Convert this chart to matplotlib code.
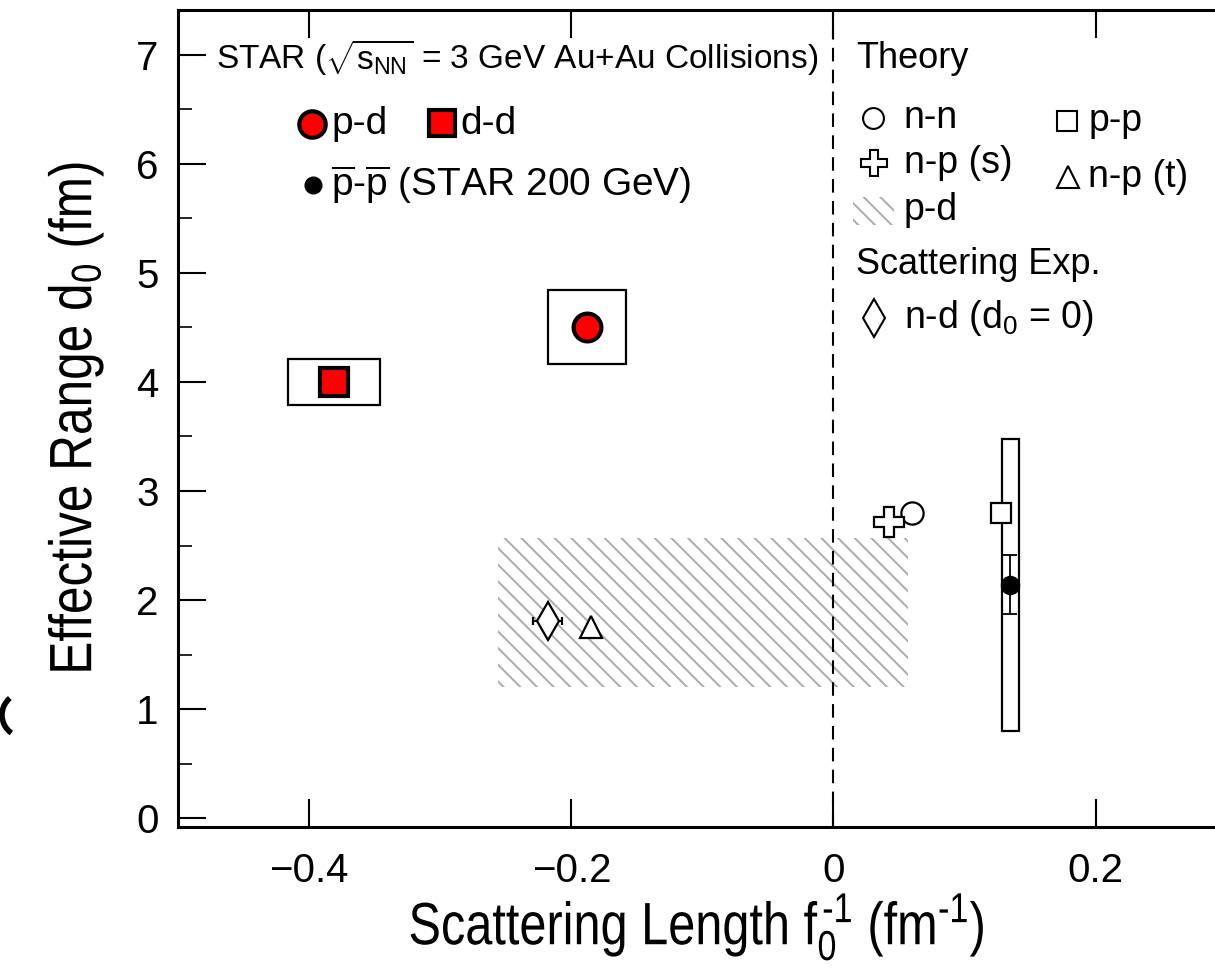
import matplotlib
matplotlib.use("Agg")
import matplotlib.pyplot as plt
from matplotlib.patches import Rectangle, Arc
from matplotlib.patheffects import AbstractPathEffect
from matplotlib.transforms import Affine2D
from matplotlib import font_manager as fm

# ---- data: inverse scattering length f0^-1 (fm^-1) and effective range d0 (fm)
star_pairs = ["p-d", "d-d"]
star_inv_f0 = [-0.188, -0.381]
star_d0 = [4.50, 4.00]
star_inv_f0_sys = [0.030, 0.035]
star_d0_sys = [0.34, 0.21]

pbar_inv_f0 = 0.135
pbar_d0 = 2.14
pbar_d0_stat = 0.27
pbar_inv_f0_sys = 0.0065
pbar_d0_sys = 1.34

theory_pairs = ["n-n", "n-p (s)", "n-p (t)", "p-p"]
theory_inv_f0 = [0.060, 0.042, -0.185, 0.128]
theory_d0 = [2.80, 2.72, 1.75, 2.80]

pd_band_inv_f0 = [-0.256, 0.057]
pd_band_d0 = [1.20, 2.57]

nd_inv_f0 = -0.218
nd_inv_f0_err = 0.011
nd_d0 = 1.81

xticks = [-0.4, -0.2, 0.0, 0.2]
xticklabels = ["\u22120.4", "\u22120.2", "0", "0.2"]
yticks = [0, 1, 2, 3, 4, 5, 6, 7]


class Squeeze(AbstractPathEffect):
    """Draw text horizontally condensed about its own centre."""

    def __init__(self, sx=0.82):
        super().__init__()
        self.sx = sx

    def draw_path(self, renderer, gc, tpath, affine, rgbFace=None):
        ext = tpath.get_extents()
        cx = 0.5 * (ext.x0 + ext.x1)
        t = Affine2D().translate(-cx, 0).scale(self.sx, 1).translate(cx, 0) + affine
        renderer.draw_path(gc, tpath, t, rgbFace)


# ---- fonts
names = {f.name for f in fm.fontManager.ttflist}
base = "Liberation Sans" if "Liberation Sans" in names else "DejaVu Sans"
plt.rcParams["font.family"] = [base, "DejaVu Sans"]
plt.rcParams["mathtext.fontset"] = "custom"
plt.rcParams["mathtext.rm"] = base
plt.rcParams["mathtext.it"] = base
plt.rcParams["mathtext.bf"] = base
plt.rcParams["hatch.linewidth"] = 1.4

HATCH_GREY = "#ababab"

fig = plt.figure(figsize=(12.15, 9.68), dpi=100)
ax = fig.add_axes([0.1465, 0.1457, 0.8535, 0.844])
ax.set_xlim(-0.5, 0.291)
ax.set_ylim(-0.08, 7.41)

# p-d theory band
ax.fill_between(pd_band_inv_f0, pd_band_d0[0], pd_band_d0[1], facecolor="none",
                edgecolor=HATCH_GREY, hatch="\\\\", linewidth=0, zorder=1)

# zero line
ax.axvline(0, color="black", lw=1.5, dashes=(6.5, 4), zorder=2)

# STAR 3 GeV systematic boxes and points
for x, y, sx, sy in zip(star_inv_f0, star_d0, star_inv_f0_sys, star_d0_sys):
    ax.add_patch(Rectangle((x - sx, y - sy), 2 * sx, 2 * sy, fill=False,
                           edgecolor="black", lw=1.6, zorder=3))
ax.plot(star_inv_f0[0], star_d0[0], "o", ms=20, mfc="red", mec="black", mew=3, zorder=5)
ax.plot(star_inv_f0[1], star_d0[1], "s", ms=20, mfc="red", mec="black", mew=3, zorder=5)

# pbar-pbar (STAR 200 GeV)
ax.add_patch(Rectangle((pbar_inv_f0 - pbar_inv_f0_sys, pbar_d0 - pbar_d0_sys),
                       2 * pbar_inv_f0_sys, 2 * pbar_d0_sys, fill=False,
                       edgecolor="black", lw=1.6, zorder=3))
ax.errorbar(pbar_inv_f0, pbar_d0, yerr=pbar_d0_stat, fmt="o", ms=13, color="black",
            elinewidth=1.3, capsize=5, capthick=1.3, zorder=6)

# theory points
mk = {"n-n": ("o", 16), "n-p (s)": ("P", 21), "n-p (t)": ("^", 16), "p-p": ("s", 14)}
for name, x, y in zip(theory_pairs, theory_inv_f0, theory_d0):
    m, s = mk[name]
    ax.plot(x, y, m, ms=s, mfc="white", mec="black", mew=1.6, zorder=4)

# n-d scattering experiment
ax.errorbar(nd_inv_f0, nd_d0, xerr=nd_inv_f0_err, fmt="d", ms=19, mfc="white",
            mec="black", mew=1.6, ecolor="black", elinewidth=1.3, capsize=3,
            capthick=1.3, zorder=5)

# axes styling
for side in ["left", "bottom", "top"]:
    ax.spines[side].set_linewidth(2.2)
ax.spines["right"].set_visible(False)
ax.set_xticks(xticks)
ax.set_xticklabels(xticklabels)
ax.set_yticks(yticks)
ax.set_yticks([v + 0.5 for v in yticks[:-1]], minor=True)
ax.tick_params(which="major", direction="in", length=20, width=1.5, top=True,
               right=False, labelsize=29)
ax.tick_params(axis="x", which="major", pad=18)
ax.tick_params(axis="y", which="major", pad=14)
ax.tick_params(which="minor", direction="in", length=10, width=1.2, top=False,
               right=False)
ax.tick_params(axis="x", which="minor", bottom=False)

xl = ax.set_xlabel(r"Scattering Length f$_{0}^{\,\text{-1}}$ (fm$^{\text{-1}}$)",
                   fontsize=43, labelpad=2)
xl.set_path_effects([Squeeze(0.815)])
yl = ax.set_ylabel(r"Effective Range d$_{0}$ (fm)", fontsize=43, labelpad=22)
yl.set_path_effects([Squeeze(0.83)])

# stroke of a neighbouring panel's label showing at the left border
fig.add_artist(Arc((0.24, 2.53), 0.44, 0.44, theta1=130, theta2=235, lw=4.0,
                   color="black", transform=fig.dpi_scale_trans))

# ---- in-plot legends (axes-fraction layout)
T = ax.transAxes
fs_head = 26
fs_item = 27
ax.text(0.037, 0.941, r"STAR ($\sqrt{s_{\mathrm{NN}}}$ = 3 GeV Au+Au Collisions)",
        transform=T, fontsize=24, va="center", ha="left")
ax.plot(0.129, 0.860, "o", ms=19, mfc="red", mec="black", mew=3, transform=T, clip_on=False)
ax.text(0.148, 0.860, "p-d", transform=T, fontsize=28, va="center")
ax.plot(0.255, 0.862, "s", ms=19, mfc="red", mec="black", mew=3, transform=T, clip_on=False)
ax.text(0.272, 0.860, "d-d", transform=T, fontsize=28, va="center")
ax.plot(0.130, 0.786, "o", ms=12, color="black", transform=T)
ax.text(0.148, 0.786, r"$\overline{\mathrm{p}}$-$\overline{\mathrm{p}}$ (STAR 200 GeV)",
        transform=T, fontsize=28, va="center")

ax.text(0.654, 0.941, "Theory", transform=T, fontsize=fs_head, va="center")
ax.plot(0.670, 0.868, "o", ms=15, mfc="white", mec="black", mew=1.5, transform=T)
ax.text(0.700, 0.868, "n-n", transform=T, fontsize=fs_item, va="center")
ax.plot(0.857, 0.864, "s", ms=14, mfc="white", mec="black", mew=1.5, transform=T)
ax.text(0.878, 0.864, "p-p", transform=T, fontsize=fs_item, va="center")
ax.plot(0.671, 0.813, "P", ms=19, mfc="white", mec="black", mew=1.5, transform=T)
ax.text(0.700, 0.813, "n-p (s)", transform=T, fontsize=fs_item, va="center")
ax.plot(0.858, 0.795, "^", ms=16, mfc="white", mec="black", mew=1.5, transform=T)
ax.text(0.878, 0.795, "n-p (t)", transform=T, fontsize=fs_item, va="center")
ax.add_patch(Rectangle((0.651, 0.737), 0.039, 0.034, transform=T, facecolor="none",
                       edgecolor=HATCH_GREY, hatch="\\\\", lw=0))
ax.text(0.700, 0.755, "p-d", transform=T, fontsize=fs_item, va="center")
ax.text(0.654, 0.689, "Scattering Exp.", transform=T, fontsize=fs_head, va="center")
ax.plot(0.671, 0.623, "d", ms=19, mfc="white", mec="black", mew=1.5, transform=T)
ax.text(0.700, 0.623, r"n-d (d$_{0}$ = 0)", transform=T, fontsize=fs_item, va="center")

fig.savefig("out.png", dpi=100)
